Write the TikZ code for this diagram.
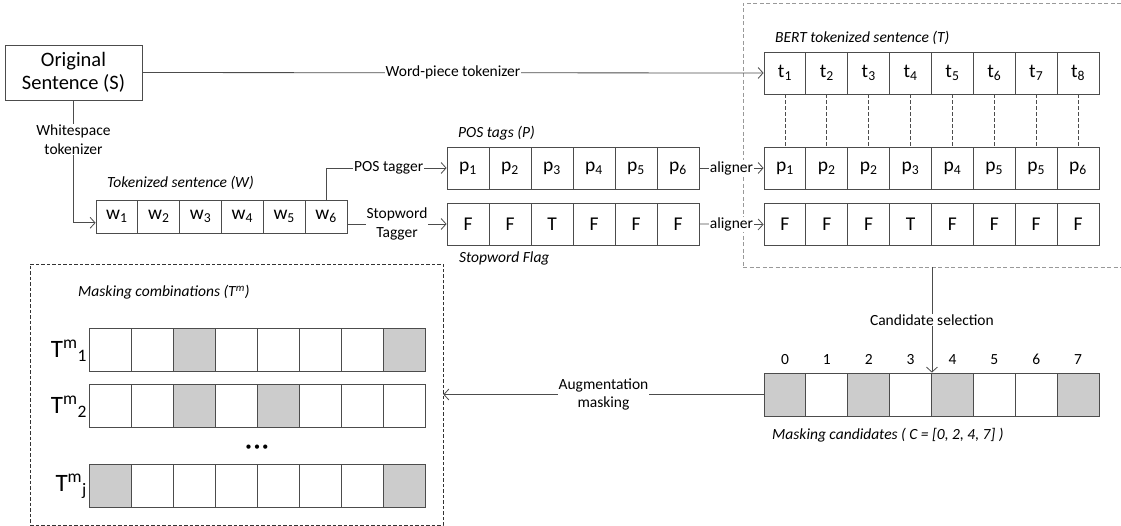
\documentclass[tikz,border=0pt]{standalone}
\usepackage{fontspec}
\setmainfont{Carlito}
\usetikzlibrary{arrows.meta,calc}

\begin{document}
\begin{tikzpicture}[x=1pt,y=-1pt,
  conn/.style={draw=black!70, line width=0.8pt},
  arr/.style={conn, -{Straight Barb[length=5pt,width=11pt]}},
  cell/.style={draw=black!70, line width=0.8pt, inner sep=0pt,
    minimum width=41.9pt, minimum height=42pt,
    font=\fontsize{19.5}{19.5}\selectfont},
  maskon/.style={fill=black!20},
  maskoff/.style={},
  lbl/.style={fill=white, inner sep=1pt, align=center,
    font=\fontsize{15.5}{18.5}\selectfont},
  capt/.style={anchor=west, inner sep=0pt,
    font=\fontsize{15.5}{18}\selectfont\itshape},
  idx/.style={inner sep=0pt, font=\fontsize{15.5}{18}\selectfont},
  rowlbl/.style={anchor=east, inner sep=0pt, font=\fontsize{25}{25}\selectfont},
  link/.style={draw=black!70, line width=0.7pt, dash pattern=on 4pt off 2pt}
]
\useasboundingbox (0,0) rectangle (1121,526);

% source sentence
\node[draw=black!70, line width=0.8pt, minimum width=137pt, minimum height=55pt,
  align=center, font=\fontsize{20.5}{23}\selectfont] (orig) at (73.5,72.5)
  {Original\\Sentence (S)};

% whitespace tokens
\node[capt] (wcap) at (107,183) {Tokenized sentence (W)};
\foreach \i in {1,...,6}
  \node[cell, minimum width=41.83pt, minimum height=33pt] (w\i)
    at ({96+41.83*(\i-0.5)},216.5) {w\textsubscript{\i}};

% POS tags and stopword flags
\node[capt] (pcap) at (458,133) {POS tags (P)};
\foreach \i in {1,...,6}
  \node[cell, minimum width=42pt] (p\i) at ({447+42*(\i-0.5)},168) {p\textsubscript{\i}};
\foreach \v [count=\i] in {F,F,T,F,F,F}
  \node[cell, minimum width=42pt] (f\i) at ({447+42*(\i-0.5)},224) {\v};
\node[capt] (fcap) at (459,258) {Stopword Flag};

% BERT side
\node[draw=black!40, line width=0.8pt, dash pattern=on 4pt off 2.5pt,
  minimum width=382pt, minimum height=264pt, inner sep=0pt] (bertbox) at (934,135) {};
\node[capt] (tcap) at (775,38) {BERT tokenized sentence (T)};
\foreach \i in {1,...,8}
  \node[cell] (t\i) at ({764+41.875*(\i-0.5)},73) {t\textsubscript{\i}};
\foreach \s [count=\i] in {1,2,2,3,4,5,5,6}
  \node[cell] (bp\i) at ({764+41.875*(\i-0.5)},168) {p\textsubscript{\s}};
\foreach \v [count=\i] in {F,F,F,T,F,F,F,F}
  \node[cell] (bf\i) at ({764+41.875*(\i-0.5)},224.5) {\v};
\foreach \i in {1,...,8}
  \draw[link] (t\i.south) -- (bp\i.north);

% masking candidates
\foreach \i/\m in {0/maskon,1/maskoff,2/maskon,3/maskoff,4/maskon,5/maskoff,6/maskoff,7/maskon} {
  \node[cell, \m, minimum height=43pt] (c\i) at ({764+41.875*(\i+0.5)},394.5) {};
  \node[idx] (ci\i) at ([yshift=13pt]c\i.north) {\i};
}
\node[capt] (ccap) at (772,435) {Masking candidates ( C = [0, 2, 4, 7] )};

% masking combinations
\node[draw=black!80, line width=0.7pt, dash pattern=on 3.5pt off 2pt,
  minimum width=413pt, minimum height=261pt, inner sep=0pt] (mbox) at (236.5,394.5) {};
\node[capt] (mcap) at (78,292) {Masking combinations (T\textsuperscript{m})};
\foreach \i/\m in {0/maskoff,1/maskoff,2/maskon,3/maskoff,4/maskoff,5/maskoff,6/maskoff,7/maskon}
  \node[cell, \m, minimum width=42pt, minimum height=43pt] (ma\i) at ({89+42*(\i+0.5)},349.5) {};
\foreach \i/\m in {0/maskoff,1/maskoff,2/maskon,3/maskoff,4/maskon,5/maskoff,6/maskoff,7/maskoff}
  \node[cell, \m, minimum width=42pt, minimum height=43pt] (mb\i) at ({89+42*(\i+0.5)},405.5) {};
\foreach \i/\m in {0/maskon,1/maskoff,2/maskoff,3/maskoff,4/maskoff,5/maskoff,6/maskoff,7/maskon}
  \node[cell, \m, minimum width=42pt, minimum height=43pt] (mj\i) at ({89+42*(\i+0.5)},485.5) {};
\node[rowlbl] (la) at ([xshift=-1.5pt,yshift=-1pt]ma0.west) {T\textsuperscript{m}\textsubscript{1}};
\node[rowlbl] (lb) at ([xshift=-1.5pt,yshift=-1pt]mb0.west) {T\textsuperscript{m}\textsubscript{2}};
\node[rowlbl] (lj) at ([xshift=-1.5pt,yshift=-1pt]mj0.west) {T\textsuperscript{m}\textsubscript{j}};
\node[inner sep=0pt, font=\fontsize{12}{12}\selectfont] (dots) at (257,448)
  {\textbullet\hspace{2.5pt}\textbullet\hspace{2.5pt}\textbullet};

% connectors
\draw[arr] (orig) -- node[lbl] {Word-piece tokenizer} (t1);
\draw[arr] (orig.south) |- node[lbl, pos=0.16] {Whitespace\\tokenizer} ([yshift=-6.3pt]w1.west);
\draw[arr] (w6.north) |- node[lbl, pos=0.76] {POS tagger} (p1.west);
\draw[arr] (w6.east |- f1.west) -- node[lbl] {Stopword\\Tagger} (f1.west);
\draw[arr] (p6.east) -- node[lbl] {aligner} (bp1.west);
\draw[arr] (f6.east) -- node[lbl] {aligner} (bf1.west);
\draw[arr] (bertbox.south -| c3.north east) -- node[lbl] {Candidate selection} (c3.north east);
\draw[arr] (c0.west) -- node[lbl] {Augmentation\\masking} (mbox.east);
\end{tikzpicture}
\end{document}
